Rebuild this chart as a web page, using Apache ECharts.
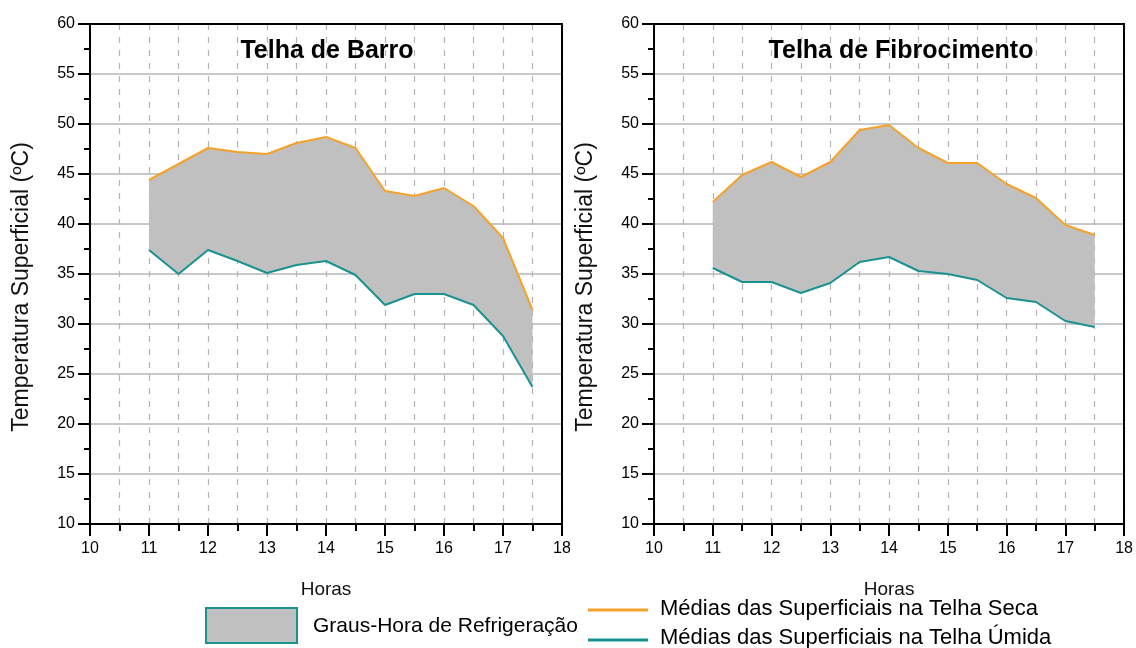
<!DOCTYPE html>
<html>
<head>
<meta charset="utf-8">
<script src="https://cdn.jsdelivr.net/npm/echarts@6/dist/echarts.min.js"></script>
<style>
  html, body { margin: 0; padding: 0; background: #ffffff; }
  #chart { width: 1136px; height: 648px; }
</style>
</head>
<body>
<div id="chart"></div>
<script>
// Hours of the day (half-hour steps)
const hours = [11, 11.5, 12, 12.5, 13, 13.5, 14, 14.5, 15, 15.5, 16, 16.5, 17, 17.5];

// Clay tile (Telha de Barro): mean surface temperatures, dry and wet tile
const barroSeca  = [44.4, 46.0, 47.6, 47.2, 47.0, 48.1, 48.7, 47.6, 43.3, 42.8, 43.6, 41.8, 38.6, 31.4];
const barroUmida = [37.4, 35.0, 37.4, 36.3, 35.1, 35.9, 36.3, 34.9, 31.9, 33.0, 33.0, 31.9, 28.8, 23.7];

// Fibre-cement tile (Telha de Fibrocimento)
const fibroSeca  = [42.2, 44.9, 46.2, 44.7, 46.2, 49.4, 49.9, 47.6, 46.1, 46.1, 44.0, 42.6, 39.9, 38.9];
const fibroUmida = [35.6, 34.2, 34.2, 33.1, 34.1, 36.2, 36.7, 35.3, 35.0, 34.4, 32.6, 32.2, 30.3, 29.7];

const panelTitles = ['Telha de Barro', 'Telha de Fibrocimento'];
const xName = 'Horas';
const yName = 'Temperatura Superficial (ºC)';
const legendLabels = ['Graus-Hora de Refrigeração', 'Médias das Superficiais na Telha Seca', 'Médias das Superficiais na Telha Úmida'];

const ORANGE = '#f5a22c';
const TEAL = '#1a9290';
const FILL = '#c0c0c0';
const FONT = '"Liberation Sans", Arial, sans-serif';

const chart = echarts.init(document.getElementById('chart'), null, { renderer: 'canvas' });

const panels = [
  { seca: barroSeca, umida: barroUmida, left: 90 },
  { seca: fibroSeca, umida: fibroUmida, left: 654 }
];
const PLOT_W = 472, PLOT_H = 500, PLOT_TOP = 24;

const grids = [], xAxes = [], yAxes = [], series = [], titles = [], graphics = [];

panels.forEach((p, i) => {
  grids.push({ left: p.left, top: PLOT_TOP, width: PLOT_W, height: PLOT_H });

  // bottom axis with ticks and labels
  xAxes.push({
    type: 'value', gridIndex: i, min: 10, max: 18, interval: 1,
    name: xName, nameLocation: 'middle', nameGap: 56,
    nameTextStyle: { fontFamily: FONT, fontSize: 19, color: '#111' },
    axisLine: { show: true, onZero: false, lineStyle: { color: '#000', width: 2 } },
    axisTick: { show: true, length: 12, lineStyle: { color: '#000', width: 2 } },
    minorTick: { show: true, splitNumber: 2, length: 7, lineStyle: { color: '#000', width: 2 } },
    axisLabel: { fontFamily: FONT, fontSize: 16, color: '#000', margin: 17 },
    splitLine: { show: true, lineStyle: { color: '#b4b4b4', type: [6, 7], width: 1.2 } },
    minorSplitLine: { show: true, lineStyle: { color: '#b4b4b4', type: [6, 7], width: 1.2 } }
  });
  // top frame line
  xAxes.push({
    type: 'value', gridIndex: i, min: 10, max: 18, position: 'top',
    axisLine: { show: true, onZero: false, lineStyle: { color: '#000', width: 2 } },
    axisTick: { show: false }, axisLabel: { show: false }, splitLine: { show: false }
  });
  // left axis with ticks and labels
  yAxes.push({
    type: 'value', gridIndex: i, min: 10, max: 60, interval: 5,
    axisLine: { show: true, onZero: false, lineStyle: { color: '#000', width: 2 } },
    axisTick: { show: true, length: 12, lineStyle: { color: '#000', width: 2 } },
    minorTick: { show: true, splitNumber: 2, length: 6, lineStyle: { color: '#000', width: 2 } },
    axisLabel: { fontFamily: FONT, fontSize: 16, color: '#000', margin: 15 },
    splitLine: { show: true, lineStyle: { color: '#c8c8c8', width: 2 } }
  });
  // right frame line
  yAxes.push({
    type: 'value', gridIndex: i, min: 10, max: 60, position: 'right',
    axisLine: { show: true, onZero: false, lineStyle: { color: '#000', width: 2 } },
    axisTick: { show: false }, axisLabel: { show: false }, splitLine: { show: false }
  });

  const xi = i * 2, yi = i * 2;
  const upper = p.seca, lower = p.umida;

  // Grey band between the wet and dry curves (one polygon through the axes' scales)
  series.push({
    type: 'custom', xAxisIndex: xi, yAxisIndex: yi,
    data: hours.map((h, k) => [h, lower[k], upper[k]]),
    encode: { x: 0, y: [1, 2] },
    renderItem: (params, api) => {
      if (params.dataIndex !== 0) return null;
      const top = hours.map((h, k) => api.coord([h, upper[k]]));
      const bottom = hours.map((h, k) => api.coord([h, lower[k]])).reverse();
      return {
        type: 'polygon',
        shape: { points: top.concat(bottom) },
        style: { fill: FILL, stroke: null }
      };
    },
    silent: true, z: 1
  });
  // Dry tile curve
  series.push({
    type: 'line', xAxisIndex: xi, yAxisIndex: yi,
    data: hours.map((h, k) => [h, upper[k]]),
    symbol: 'none', lineStyle: { color: ORANGE, width: 2 }, z: 3
  });
  // Wet tile curve
  series.push({
    type: 'line', xAxisIndex: xi, yAxisIndex: yi,
    data: hours.map((h, k) => [h, lower[k]]),
    symbol: 'none', lineStyle: { color: TEAL, width: 2 }, z: 3
  });

  titles.push({
    text: panelTitles[i], left: p.left + PLOT_W / 2 + (i === 0 ? -4 : 6), top: 34, textAlign: 'center',
    textStyle: { fontFamily: FONT, fontSize: 25, fontWeight: 'bold', color: '#000' }
  });

  // vertical axis title
  graphics.push({
    type: 'text', x: p.left - 68, y: 287, rotation: Math.PI / 2,
    style: { text: yName, font: '23px ' + FONT, fill: '#111', textAlign: 'center', textVerticalAlign: 'middle' }
  });
});

graphics.push(
  // Legend: shaded band
  { type: 'rect', shape: { x: 206, y: 608, width: 91, height: 35 },
    style: { fill: FILL, stroke: TEAL, lineWidth: 2 } },
  { type: 'text', x: 313, y: 626,
    style: { text: legendLabels[0], font: '21px ' + FONT, fill: '#000', textVerticalAlign: 'middle' } },
  // Legend: dry tile line
  { type: 'line', shape: { x1: 588, y1: 610, x2: 648, y2: 610 },
    style: { stroke: ORANGE, lineWidth: 3 } },
  { type: 'text', x: 660, y: 609,
    style: { text: legendLabels[1], font: '22px ' + FONT, fill: '#000', textVerticalAlign: 'middle' } },
  // Legend: wet tile line
  { type: 'line', shape: { x1: 588, y1: 640, x2: 648, y2: 640 },
    style: { stroke: TEAL, lineWidth: 3 } },
  { type: 'text', x: 660, y: 638,
    style: { text: legendLabels[2], font: '22px ' + FONT, fill: '#000', textVerticalAlign: 'middle' } }
);

chart.setOption({
  backgroundColor: '#ffffff',
  animation: false,
  title: titles,
  grid: grids,
  xAxis: xAxes,
  yAxis: yAxes,
  series: series,
  graphic: graphics
});
</script>
</body>
</html>
